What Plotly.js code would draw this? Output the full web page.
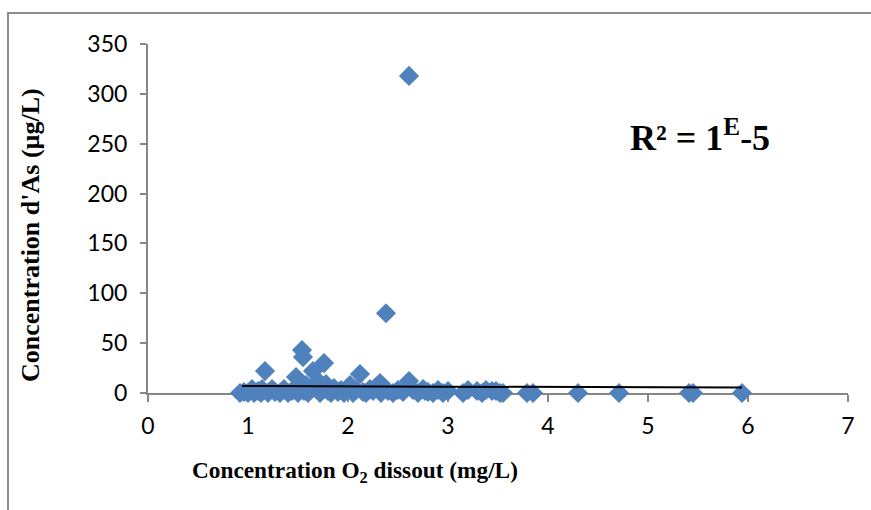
<!DOCTYPE html>
<html>
<head>
<meta charset="utf-8">
<script src="https://cdn.plot.ly/plotly-3.0.1.min.js"></script>
<style>
  html, body { margin: 0; padding: 0; background: #fff; }
  #wrap { position: relative; width: 871px; height: 510px; overflow: hidden; }
  #frame { position: absolute; left: 7px; top: 12px; width: 900px; height: 600px;
           border-left: 2px solid #8c8c8c; border-top: 2px solid #8c8c8c; pointer-events: none; }
  #chart { position: absolute; left: 0; top: 0; width: 871px; height: 510px; }
</style>
</head>
<body>
<div id="wrap">
  <div id="chart"></div>
  <div id="frame"></div>
</div>
<script>
// Dissolved O2 (mg/L) against arsenic concentration (µg/L)
const o2 = [
  0.92, 0.96, 1.00, 1.04, 1.06, 1.10, 1.13, 1.14, 1.17, 1.20,
  1.24, 1.27, 1.32, 1.36, 1.40, 1.44, 1.48, 1.50, 1.52, 1.54,
  1.55, 1.56, 1.58, 1.60, 1.62, 1.65, 1.67, 1.70, 1.72, 1.76,
  1.76, 1.78, 1.80, 1.83, 1.86, 1.90, 1.93, 1.96, 1.99, 2.02,
  2.05, 2.08, 2.12, 2.15, 2.18, 2.22, 2.25, 2.28, 2.32, 2.33,
  2.36, 2.38, 2.40, 2.45, 2.50, 2.55, 2.61, 2.61, 2.65, 2.70,
  2.75, 2.77, 2.80, 2.85, 2.90, 2.95, 3.00, 3.15, 3.20, 3.29,
  3.34, 3.38, 3.44, 3.48, 3.52, 3.55, 3.79, 3.85, 4.30, 4.71,
  5.41, 5.45, 5.94
];
const arsenic = [
  0, 1, 0, 4, 0, 2, 0, 4, 22, 0,
  4, 1, 0, 4, 0, 2, 16, 0, 5, 43,
  36, 2, 8, 0, 3, 22, 6, 12, 0, 30,
  4, 9, 2, 0, 5, 1, 3, 0, 4, 8,
  0, 3, 19, 1, 0, 4, 2, 6, 10, 0,
  4, 80, 2, 0, 3, 1, 318, 12, 3, 0,
  4, 2, 1, 0, 3, 0, 2, 0, 3, 2,
  0, 3, 2, 2, 0, 0, 0, 0, 0, 0,
  0, 0, 0
];

// Linear trend line end points
const trendX = [0.94, 5.94];
const trendY = [7.0, 5.4];

const xTicks = [0, 1, 2, 3, 4, 5, 6, 7];
const yTicks = [0, 50, 100, 150, 200, 250, 300, 350];

const axisGray = '#868686';
const tickFont = { family: 'Lato, "Open Sans", sans-serif', size: 23, color: '#000' };
const serif = '"Liberation Serif", "Times New Roman", serif';

const traces = [
  {
    x: o2, y: arsenic,
    type: 'scatter', mode: 'markers',
    cliponaxis: false,
    marker: { symbol: 'diamond', size: 15.5, color: '#4F81BD', line: { width: 0 } },
    hoverinfo: 'x+y'
  },
  {
    x: trendX, y: trendY,
    type: 'scatter', mode: 'lines',
    cliponaxis: false,
    line: { color: '#000', width: 2 },
    hoverinfo: 'skip'
  }
];

const layout = {
  width: 871, height: 510,
  margin: { l: 148, r: 23, t: 44, b: 117 },
  paper_bgcolor: 'rgba(0,0,0,0)',
  plot_bgcolor: 'rgba(0,0,0,0)',
  showlegend: false,
  xaxis: {
    range: [0, 7], tickvals: xTicks, ticktext: xTicks.map(String),
    showgrid: false, zeroline: false,
    showline: true, linecolor: axisGray, linewidth: 2,
    ticks: 'outside', ticklen: 7, tickwidth: 2, tickcolor: axisGray,
    ticklabelstandoff: 4,
    tickfont: tickFont, layer: 'below traces', fixedrange: true
  },
  yaxis: {
    range: [0, 350], tickvals: yTicks, ticktext: yTicks.map(String),
    showgrid: false, zeroline: false,
    showline: true, linecolor: axisGray, linewidth: 2,
    ticks: 'outside', ticklen: 6, tickwidth: 2, tickcolor: axisGray,
    ticklabelstandoff: 8,
    tickfont: tickFont, layer: 'below traces', fixedrange: true
  },
  annotations: [
    {
      text: '<b>Concentration O<sub>2</sub> dissout (mg/L)</b>',
      xref: 'paper', yref: 'paper',
      x: (190 - 148) / 700, xanchor: 'left',
      y: (393 - 472) / 349, yanchor: 'middle',
      showarrow: false, font: { family: serif, size: 23.3, color: '#000' }
    },
    {
      text: "<b>Concentration d'As (µg/L)</b>",
      xref: 'paper', yref: 'paper',
      x: (30 - 148) / 700, xanchor: 'center',
      y: (393 - 235) / 349, yanchor: 'middle',
      textangle: -90,
      showarrow: false, font: { family: serif, size: 26, color: '#000' }
    },
    {
      text: '<b>R² = 1<sup>E</sup>-5</b>',
      xref: 'paper', yref: 'paper',
      x: (700 - 148) / 700, xanchor: 'center',
      y: (393 - 135) / 349, yanchor: 'middle',
      showarrow: false, font: { family: serif, size: 36, color: '#000' }
    }
  ]
};

Plotly.newPlot('chart', traces, layout, { staticPlot: true, displayModeBar: false });
</script>
</body>
</html>
